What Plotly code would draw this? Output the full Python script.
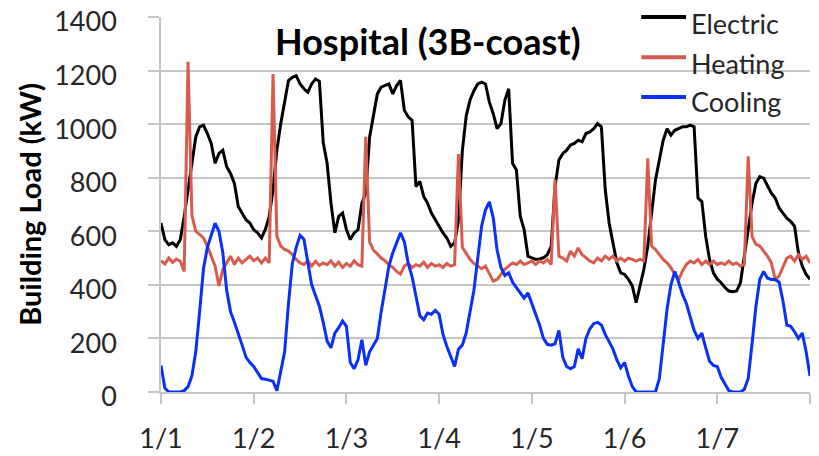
import plotly.graph_objects as go

# ---- data: hourly building load (kW), 1/1 00:00 .. 1/8 00:00 ----
day_labels = ["1/1", "1/2", "1/3", "1/4", "1/5", "1/6", "1/7", ""]
day_hours = [0, 24, 48, 72, 96, 120, 144, 168]

electric = [
    631, 569, 550, 557, 544, 569, 655, 755, 866, 952, 990, 996, 965, 928, 854, 891, 903, 841, 816, 779, 693, 668, 643, 631,
    606, 594, 575, 606, 655, 755, 903, 1002, 1089, 1163, 1175, 1181, 1150, 1132, 1119, 1150, 1169, 1160, 930, 854, 705, 594, 656, 668,
    606, 569, 594, 606, 705, 742, 952, 1039, 1113, 1138, 1144, 1150, 1113, 1144, 1163, 1051, 1027, 1014, 767, 786, 730, 705, 668, 643,
    619, 594, 575, 544, 557, 640, 900, 1030, 1090, 1125, 1150, 1157, 1150, 1082, 1039, 983, 1002, 1089, 1132, 854, 829, 656, 606, 507,
    501, 495, 497, 501, 513, 544, 767, 866, 890, 903, 922, 928, 940, 934, 965, 971, 983, 1002, 990, 755, 631, 557, 482, 445,
    439, 421, 396, 334, 400, 458, 544, 680, 792, 866, 940, 983, 959, 977, 983, 990, 990, 996, 990, 724, 711, 581, 495, 445,
    421, 408, 390, 377, 374, 377, 408, 507, 606, 705, 779, 804, 798, 767, 742, 724, 687, 668, 649, 637, 619, 520, 470, 439,
    421,
]

heating = [
    490, 478, 500, 484, 496, 488, 450, 1233, 660, 600, 588, 575, 545, 507, 470, 396, 458, 482, 507, 476, 500, 482, 494, 507,
    490, 500, 482, 500, 482, 1187, 581, 545, 532, 526, 513, 495, 482, 476, 489, 470, 488, 472, 482, 475, 490, 470, 485, 465,
    480, 470, 490, 475, 470, 953, 560, 530, 515, 500, 490, 475, 465, 450, 440, 470, 480, 465, 475, 470, 485, 465, 480, 470,
    475, 465, 480, 470, 475, 888, 540, 515, 495, 480, 470, 460, 470, 440, 414, 420, 440, 458, 470, 482, 476, 489, 476, 482,
    489, 476, 489, 482, 495, 476, 793, 507, 500, 489, 526, 507, 538, 513, 500, 489, 482, 500, 489, 507, 495, 507, 489, 500,
    489, 500, 495, 489, 495, 490, 872, 545, 532, 513, 495, 482, 464, 440, 420, 452, 476, 489, 482, 495, 476, 489, 476, 489,
    476, 482, 476, 489, 476, 482, 470, 476, 880, 581, 551, 545, 526, 507, 482, 420, 433, 470, 500, 507, 489, 513, 495, 507,
    482,
]

cooling = [
    99, 15, 0, 0, 0, 0, 5, 20, 60, 150, 300, 460, 540, 585, 630, 600, 520, 380, 300, 260, 220, 175, 130, 110,
    95, 70, 50, 48, 45, 40, 5, 80, 150, 330, 480, 540, 585, 570, 480, 400, 360, 320, 260, 190, 165, 220, 240, 265,
    245, 110, 87, 120, 195, 100, 150, 173, 200, 300, 383, 470, 520, 560, 594, 560, 480, 430, 360, 285, 270, 295, 290, 305,
    290, 215, 170, 130, 95, 160, 175, 220, 300, 380, 500, 620, 680, 710, 650, 530, 465, 435, 445, 410, 390, 370, 350, 370,
    330, 285, 250, 200, 178, 175, 180, 230, 130, 95, 87, 95, 161, 124, 200, 235, 255, 260, 250, 215, 190, 160, 120, 90,
    110, 60, 20, 0, 0, 0, 0, 0, 0, 50, 180, 310, 400, 450, 410, 365, 330, 280, 230, 200, 220, 165, 115, 99,
    95, 55, 30, 5, 0, 0, 0, 10, 50, 180, 320, 420, 450, 425, 420, 420, 410, 340, 250, 245, 225, 200, 220, 150,
    60,
]

hours = list(range(len(electric)))

FONT = "Lato, 'Open Sans', sans-serif"
GRID = "#c6c6c6"
TXT = "#262626"

series = [("Electric", electric, "#000000"),
          ("Heating", heating, "#d75c4e"),
          ("Cooling", cooling, "#0a2ff5")]

fig = go.Figure()
for name, ys, color in series:
    fig.add_trace(go.Scatter(x=hours, y=ys, mode="lines", name=name,
                             line=dict(color=color, width=3)))

# ---- legend drawn by hand (plotly's own legend pushes the margins) ----
# white patch behind it so the gridlines stop there, as in Excel
fig.add_shape(type="rect", xref="paper", yref="paper",
              x0=0.675, x1=1.02, y0=0.739, y1=1.05,
              fillcolor="white", line_width=0, layer="between")
leg_line_y = [1.0, 0.893, 0.787]
leg_text_y = [0.984, 0.877, 0.775]
for (name, _, color), ly, ty in zip(series, leg_line_y, leg_text_y):
    fig.add_shape(type="line", xref="paper", yref="paper",
                  x0=0.740, x1=0.809, y0=ly, y1=ly,
                  line=dict(color=color, width=4), layer="above")
    fig.add_annotation(text=name, xref="paper", yref="paper",
                       x=0.813, y=ty, xanchor="left", yanchor="middle",
                       showarrow=False,
                       font=dict(family=FONT, size=27, color=TXT))

fig.add_annotation(
    text="<b>Hospital (3B-coast)</b>", xref="paper", yref="paper",
    x=0.411, y=0.937, showarrow=False, xanchor="center", yanchor="middle",
    font=dict(family=FONT, size=36, color="#000000"),
)

# the page body adds an 8px margin, so the figure is 8px smaller
fig.update_layout(
    width=811, height=448,
    paper_bgcolor="white", plot_bgcolor="white",
    margin=dict(l=153, r=9, t=9, b=64),
    font=dict(family=FONT, size=27, color=TXT),
    showlegend=False,
    xaxis=dict(
        range=[0, 168], tickvals=day_hours, ticktext=day_labels,
        showgrid=False, zeroline=False, automargin=False,
        showline=True, linecolor=GRID, linewidth=1.5,
        ticks="outside", ticklen=10, tickcolor=GRID, tickwidth=1.5,
        tickfont=dict(family=FONT, size=27, color=TXT),
        ticklabelstandoff=12,
    ),
    yaxis=dict(
        range=[0, 1400], dtick=200,
        showgrid=True, gridcolor=GRID, gridwidth=1.5, zeroline=False,
        automargin=False, ticklabeloverflow="allow",
        showline=True, linecolor=GRID, linewidth=1.5,
        ticks="outside", ticklen=11, tickcolor=GRID, tickwidth=1.5,
        tickfont=dict(family=FONT, size=27, color=TXT),
        ticklabelstandoff=26, ticklabelshift=5,
        title=dict(text="<b>Building Load (kW)</b>", standoff=4,
                   font=dict(family=FONT, size=29, color="#000000")),
    ),
)

fig.write_html("out.html")
